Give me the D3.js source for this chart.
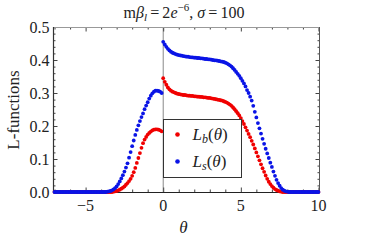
<!DOCTYPE html>
<html>
<head>
<meta charset="utf-8">
<script src="https://cdn.jsdelivr.net/npm/d3@7"></script>
<style>
  body { margin: 0; background: #fff; }
</style>
</head>
<body>
<div id="chart"></div>
<script>
// theta grid, -7 to 10 in steps of 0.1 (171 points)
var theta = d3.range(0, 171).map(function (i) { return Math.round((-7 + i * 0.1) * 10) / 10; });

// L_b(theta), red
var lb = [
  0, 0, 0, 0, 0, 0, 0, 0, 0, 0,
  0, 0, 0, 0, 0, 0, 0, 0, 0, 0,
  0, 0, 0, 0, 0, 0, 0, 0, 0, 0,
  0, 0, 0, 0, 0, 0, 0, 0,
  0.001, 0.002, 0.003, 0.005, 0.007, 0.010, 0.013, 0.017, 0.022, 0.027,
  0.033, 0.040, 0.049, 0.060, 0.073, 0.088, 0.103, 0.118, 0.134, 0.148,
  0.159, 0.167, 0.174, 0.179, 0.183, 0.187, 0.189, 0.190, 0.190, 0.189,
  0.187, 0.184,
  0.345, 0.334, 0.325, 0.317, 0.311, 0.307, 0.304, 0.302, 0.300, 0.298,
  0.297, 0.296, 0.295, 0.294, 0.294, 0.293, 0.292, 0.292, 0.291, 0.291,
  0.290, 0.290, 0.289, 0.289, 0.288, 0.288, 0.287, 0.287, 0.286, 0.285,
  0.285, 0.284, 0.283, 0.282, 0.281, 0.280, 0.279, 0.278, 0.277, 0.275,
  0.273, 0.271, 0.268, 0.265, 0.261, 0.256, 0.251, 0.245, 0.239, 0.232,
  0.224, 0.215, 0.206, 0.196, 0.186, 0.176, 0.166, 0.155, 0.144, 0.132,
  0.120, 0.108, 0.096, 0.084, 0.072, 0.061, 0.050, 0.040, 0.031, 0.024,
  0.018, 0.013, 0.009, 0.006, 0.004, 0.002, 0.001,
  0, 0, 0, 0, 0, 0, 0, 0, 0, 0,
  0, 0, 0, 0, 0, 0, 0, 0, 0, 0,
  0, 0, 0, 0
];

// L_s(theta), blue
var ls = [
  0, 0, 0, 0, 0, 0, 0, 0, 0, 0,
  0, 0, 0, 0, 0, 0, 0, 0, 0, 0,
  0, 0, 0, 0, 0, 0, 0, 0, 0, 0,
  0, 0, 0, 0,
  0.001, 0.002, 0.003, 0.005, 0.008, 0.012, 0.017, 0.024, 0.032, 0.041,
  0.051, 0.062, 0.074, 0.087, 0.104, 0.121, 0.139, 0.156, 0.173, 0.188,
  0.202, 0.215, 0.227, 0.238, 0.251, 0.262, 0.272, 0.283, 0.292, 0.299,
  0.304, 0.307, 0.307, 0.306, 0.304, 0.300,
  0.455, 0.447, 0.440, 0.434, 0.429, 0.425, 0.422, 0.420, 0.418, 0.416,
  0.415, 0.414, 0.413, 0.412, 0.411, 0.410, 0.410, 0.409, 0.408, 0.408,
  0.407, 0.407, 0.406, 0.406, 0.405, 0.405, 0.404, 0.403, 0.403, 0.402,
  0.402, 0.401, 0.400, 0.399, 0.399, 0.398, 0.397, 0.396, 0.395, 0.394,
  0.392, 0.390, 0.387, 0.384, 0.380, 0.375, 0.370, 0.364, 0.358, 0.352,
  0.345, 0.337, 0.329, 0.320, 0.309, 0.300, 0.289, 0.277, 0.261, 0.243,
  0.226, 0.209, 0.193, 0.177, 0.161, 0.146, 0.131, 0.117, 0.103, 0.089,
  0.076, 0.062, 0.049, 0.037, 0.027, 0.019, 0.012, 0.007, 0.004, 0.002,
  0.001,
  0, 0, 0, 0, 0, 0, 0, 0, 0, 0,
  0, 0, 0, 0, 0, 0, 0, 0, 0, 0
];

var xMajor = [-5, 0, 5, 10];
var xMinor = [-7, -6, -4, -3, -2, -1, 1, 2, 3, 4, 6, 7, 8, 9];
var yMajor = [0, 0.1, 0.2, 0.3, 0.4, 0.5];
var yMinor = [0.02, 0.04, 0.06, 0.08, 0.12, 0.14, 0.16, 0.18, 0.22, 0.24, 0.26, 0.28,
              0.32, 0.34, 0.36, 0.38, 0.42, 0.44, 0.46, 0.48];

var width = 392,
    height = 244,
    plotL = 53, plotR = 320, plotT = 27, plotB = 192;

var red = "#f00000",
    blue = "#0a14e6";
var serif = "Liberation Serif";

var svg = d3.select("#chart")
  .append("svg")
    .attr("width", width)
    .attr("height", height)
    .style("font-family", serif);

var x = d3.scaleLinear().domain([-7.1, 10.1]).range([plotL, plotR]);
var y = d3.scaleLinear().domain([0, 0.5]).range([plotB, plotT]);

// y axis line at theta = 0
svg.append("line")
  .attr("x1", x(0)).attr("x2", x(0))
  .attr("y1", plotT).attr("y2", plotB)
  .attr("stroke", "#888").attr("stroke-width", 1);

// frame ticks (inward), mirrored top/right
function frameAxis(axisFn, scale, major, minor, g) {
  g.call(axisFn(scale).tickValues(major).tickSizeInner(-4.5).tickSizeOuter(0).tickFormat(""));
  g.append("g").call(axisFn(scale).tickValues(minor).tickSizeInner(-2.5).tickSizeOuter(0).tickFormat(""));
  g.selectAll(".domain").remove();
  g.selectAll("line").attr("stroke", "#444");
}
frameAxis(d3.axisBottom, x, xMajor, xMinor, svg.append("g").attr("transform", "translate(0," + plotB + ")"));
frameAxis(d3.axisTop, x, xMajor, xMinor, svg.append("g").attr("transform", "translate(0," + plotT + ")"));
frameAxis(d3.axisLeft, y, yMajor, yMinor, svg.append("g").attr("transform", "translate(" + plotL + ",0)"));
frameAxis(d3.axisRight, y, yMajor, yMinor, svg.append("g").attr("transform", "translate(" + plotR + ",0)"));

// frame lines
svg.append("line").attr("x1", plotL).attr("x2", plotR).attr("y1", plotT + 0.5).attr("y2", plotT + 0.5)
  .attr("stroke", "#999").attr("stroke-width", 1);
svg.append("line").attr("x1", plotR - 0.5).attr("x2", plotR - 0.5).attr("y1", plotT).attr("y2", plotB)
  .attr("stroke", "#555").attr("stroke-width", 1);
svg.append("line").attr("x1", plotL + 0.5).attr("x2", plotL + 0.5).attr("y1", plotT).attr("y2", plotB + 0.5)
  .attr("stroke", "#333").attr("stroke-width", 1.2);
svg.append("line").attr("x1", plotL).attr("x2", plotR).attr("y1", plotB + 0.5).attr("y2", plotB + 0.5)
  .attr("stroke", "#222").attr("stroke-width", 1.2);

// tick labels
var fmtX = d3.format("d");
svg.selectAll(".xlab")
  .data(xMajor)
  .enter()
  .append("text")
  .attr("x", function (d) { return x(d); })
  .attr("y", 210.5)
  .attr("text-anchor", "middle")
  .attr("fill", "#222")
  .style("font-size", "16px")
  .text(function (d) { return fmtX(d); });

var fmtY = d3.format(".1f");
svg.selectAll(".ylab")
  .data(yMajor)
  .enter()
  .append("text")
  .attr("x", 49.5)
  .attr("y", function (d) { return y(d) + 5.5; })
  .attr("text-anchor", "end")
  .attr("fill", "#222")
  .style("font-size", "16px")
  .text(function (d) { return fmtY(d); });

// points
var series = [{ values: lb, color: red }, { values: ls, color: blue }];
series.forEach(function (s) {
  svg.append("g")
    .selectAll("circle")
    .data(theta)
    .enter()
    .append("circle")
    .attr("cx", function (d) { return x(d); })
    .attr("cy", function (d, i) { return y(s.values[i]); })
    .attr("r", 1.9)
    .style("fill", s.color);
});

// axis labels
svg.append("text")
  .attr("x", 183.5).attr("y", 233)
  .attr("text-anchor", "middle")
  .attr("fill", "#222")
  .style("font-size", "17px").style("font-style", "italic")
  .text("θ");

svg.append("text")
  .attr("transform", "translate(19,110) rotate(-90)")
  .attr("text-anchor", "middle")
  .attr("fill", "#222")
  .style("font-size", "17px")
  .text("L-functions");

// title
var title = svg.append("text")
  .attr("x", 184).attr("y", 17.5)
  .attr("text-anchor", "middle")
  .attr("fill", "#222")
  .style("font-size", "16px");
title.append("tspan").text("m");
title.append("tspan").style("font-style", "italic").text("β");
title.append("tspan").style("font-style", "italic").style("font-size", "11px").attr("dy", 3).text("l");
title.append("tspan").attr("dy", -3).text("\u2009=\u20092");
title.append("tspan").style("font-style", "italic").text("e");
title.append("tspan").style("font-size", "11px").attr("dy", -7).text("\u22126");
title.append("tspan").attr("dy", 7).text(", ");
title.append("tspan").style("font-style", "italic").text("σ");
title.append("tspan").text("\u2009=\u2009100");

// legend
var legend = svg.append("g");
legend.append("rect")
  .attr("x", 163.5).attr("y", 119.5)
  .attr("width", 78).attr("height", 58)
  .attr("fill", "white").attr("stroke", "#333").attr("stroke-width", 1);

var legendItems = [{ sub: "b", color: red, cy: 134.5 }, { sub: "s", color: blue, cy: 161.5 }];
legendItems.forEach(function (d) {
  legend.append("circle").attr("cx", 177.5).attr("cy", d.cy).attr("r", 2.3).style("fill", d.color);
  var t = legend.append("text")
    .attr("x", 192.5).attr("y", d.cy + 5.5)
    .attr("fill", "#222")
    .style("font-size", "17px");
  t.append("tspan").style("font-style", "italic").text("L");
  t.append("tspan").style("font-style", "italic").style("font-size", "12px").attr("dy", 3).text(d.sub);
  t.append("tspan").attr("dy", -3).text("(");
  t.append("tspan").style("font-style", "italic").text("θ");
  t.append("tspan").text(")");
});
</script>
</body>
</html>
